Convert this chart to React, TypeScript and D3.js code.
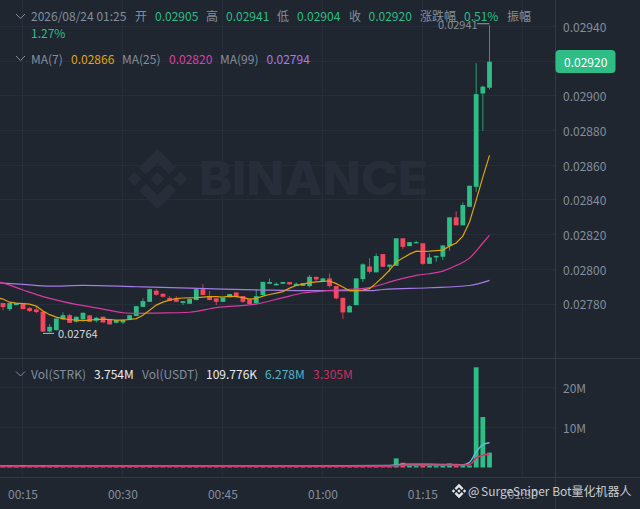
import React, { useRef, useEffect } from "react";
import * as d3 from "d3";

// one candle per minute, first one is 00:12
const opens = [
  2780.9, 2777.4, 2779.7, 2780.9, 2778.0, 2777.2, 2775.9, 2764.5, 2765.3, 2771.5,
  2773.9, 2770.1, 2771.5, 2773.8, 2770.7, 2773.0, 2771.5, 2769.5, 2769.7, 2771.1,
  2773.4, 2778.7, 2781.6, 2788.0, 2786.2, 2783.9, 2783.6, 2781.0, 2780.5, 2782.6,
  2788.9, 2784.9, 2783.6, 2781.6, 2784.2, 2787.0, 2784.9, 2783.0, 2780.7, 2785.5,
  2792.0, 2791.1, 2792.0, 2793.0, 2790.8, 2790.8, 2790.7, 2796.0, 2793.4, 2795.1,
  2790.7, 2783.9, 2775.5, 2779.7, 2794.7, 2802.0, 2798.6, 2809.1, 2801.8, 2802.4,
  2818.2, 2813.7, 2815.3, 2815.3, 2803.5, 2807.2, 2807.6, 2813.7, 2830.3, 2825.7,
  2836.4, 2847.9, 2901.7, 2905.0,
];
const closes = [
  2778.6, 2780.9, 2780.9, 2777.4, 2776.3, 2775.7, 2764.5, 2767.2, 2772.0, 2773.9,
  2769.5, 2773.0, 2775.3, 2770.1, 2772.4, 2769.7, 2768.6, 2771.1, 2771.1, 2773.9,
  2779.1, 2782.0, 2788.9, 2785.7, 2784.5, 2782.2, 2781.6, 2782.0, 2783.2, 2788.9,
  2785.5, 2782.6, 2781.6, 2783.9, 2786.1, 2784.5, 2781.6, 2780.3, 2784.9, 2793.1,
  2793.0, 2792.0, 2793.0, 2791.6, 2792.0, 2792.4, 2796.0, 2794.5, 2795.1, 2790.7,
  2783.6, 2775.5, 2779.1, 2795.1, 2803.2, 2798.9, 2808.0, 2801.8, 2803.0, 2818.2,
  2813.3, 2816.0, 2816.0, 2803.5, 2807.2, 2808.1, 2814.1, 2830.3, 2825.7, 2837.4,
  2848.5, 2901.3, 2905.6, 2920.0,
];
const highs = [
  2780.9, 2781.2, 2780.9, 2780.9, 2778.7, 2778.6, 2776.3, 2768.8, 2772.0, 2775.5,
  2774.6, 2773.0, 2775.3, 2773.8, 2773.0, 2773.0, 2771.5, 2771.1, 2771.6, 2773.9,
  2779.1, 2783.6, 2788.9, 2788.9, 2786.6, 2784.9, 2784.9, 2782.0, 2783.2, 2788.9,
  2791.8, 2787.8, 2783.6, 2783.9, 2786.1, 2787.0, 2784.9, 2783.0, 2788.8, 2793.1,
  2795.1, 2792.8, 2793.0, 2793.0, 2792.8, 2792.4, 2797.0, 2796.0, 2795.1, 2798.0,
  2790.7, 2783.9, 2779.7, 2795.1, 2803.8, 2806.8, 2809.5, 2809.1, 2803.0, 2818.2,
  2818.2, 2816.0, 2816.8, 2815.3, 2809.5, 2808.1, 2814.1, 2830.3, 2833.7, 2838.9,
  2848.5, 2919.1, 2906.2, 2941.0,
];
const lows = [
  2776.8, 2776.3, 2779.7, 2777.4, 2775.7, 2775.1, 2764.2, 2764.0, 2765.0, 2771.1,
  2769.5, 2769.7, 2771.1, 2769.8, 2769.7, 2769.7, 2768.6, 2769.5, 2768.8, 2771.1,
  2773.4, 2778.7, 2781.6, 2785.1, 2784.2, 2782.2, 2781.6, 2779.7, 2780.5, 2782.6,
  2785.5, 2782.6, 2779.7, 2781.6, 2784.2, 2784.5, 2781.0, 2780.3, 2780.7, 2785.5,
  2792.0, 2791.1, 2792.0, 2791.6, 2790.8, 2790.8, 2789.9, 2793.7, 2793.4, 2789.9,
  2783.0, 2771.8, 2775.5, 2779.7, 2793.0, 2798.0, 2798.6, 2801.8, 2798.9, 2802.4,
  2812.0, 2813.7, 2815.3, 2802.9, 2803.5, 2804.7, 2805.7, 2811.0, 2825.7, 2825.7,
  2836.4, 2845.0, 2880.2, 2904.0,
];

// first value of each MA belongs to the 00:11 candle, just off the left edge
const ma7 = [
  2784.0, 2783.2, 2781.4, 2780.9, 2780.6, 2780.3, 2779.1, 2776.3, 2774.2, 2772.8, 2771.9,
  2771.4, 2771.1, 2770.8, 2771.1, 2771.4, 2771.6, 2771.4, 2771.1, 2771.1, 2771.4,
  2771.9, 2773.9, 2776.8, 2779.7, 2781.4, 2782.6, 2783.5, 2783.8, 2783.9, 2784.0,
  2784.3, 2784.6, 2784.6, 2784.3, 2784.9, 2784.6, 2784.0, 2783.2, 2783.5, 2784.9,
  2785.8, 2786.6, 2787.5, 2789.5, 2791.0, 2791.8, 2792.7, 2793.1, 2793.4, 2793.6,
  2792.1, 2790.1, 2788.0, 2788.0, 2788.4, 2789.2, 2792.4, 2795.9, 2799.9, 2804.5,
  2806.8, 2809.1, 2810.8, 2810.6, 2810.8, 2811.1, 2811.4, 2813.7, 2815.5, 2819.5,
  2827.6, 2840.2, 2853.5, 2866.0,
];
const ma25Idx = [-1, 0, 3, 6, 9, 15, 18, 20, 23, 28, 32, 38, 42, 45, 48, 55, 59, 62, 66, 68, 70, 72, 73];
const ma25 = [
  2793.2, 2792.4, 2788.4, 2784.6, 2781.7, 2777.4, 2775.3, 2774.9, 2775.1, 2775.6, 2778.3, 2780.3,
  2784.0, 2786.7, 2787.8, 2789.8, 2794.1, 2796.8, 2799.3, 2802.5, 2806.8, 2815.5, 2820.0,
];
const ma99Idx = [-1, 0, 3, 7, 12, 20, 28, 33, 39, 47, 55, 57, 64, 70, 73];
const ma99 = [
  2792.6, 2792.4, 2791.7, 2790.6, 2791.1, 2790.3, 2789.5, 2788.9, 2788.4, 2788.0, 2788.0, 2788.7,
  2789.7, 2791.0, 2794.0,
];

// millions
const volumes = [
  0.35, 0.5, 0.3, 0.6, 0.3, 0.25, 0.6, 0.35, 0.5, 0.3,
  0.35, 0.25, 0.3, 0.3, 0.2, 0.25, 0.3, 0.2, 0.2, 0.25,
  0.3, 0.3, 0.5, 0.3, 0.25, 0.2, 0.2, 0.15, 0.2, 0.4,
  0.3, 0.25, 0.2, 0.2, 0.2, 0.2, 0.25, 0.25, 0.3, 0.45,
  0.25, 0.2, 0.2, 0.2, 0.2, 0.2, 0.35, 0.25, 0.2, 0.35,
  0.4, 0.6, 0.3, 0.6, 0.5, 0.3, 0.5, 0.4, 0.25, 2.3,
  1.2, 0.4, 0.35, 0.7, 0.4, 0.35, 0.6, 1.0, 0.45, 0.6,
  0.5, 25.3, 12.75, 3.754,
];
const volMaIdx = [-1, 15, 30, 45, 58, 60, 66, 69, 70, 71, 72, 73];
const volMa5 = [0.4, 0.35, 0.4, 0.4, 0.5, 0.85, 0.75, 0.7, 1.3, 3.9, 5.8, 6.278];
const volMa10 = [0.25, 0.3, 0.3, 0.3, 0.35, 0.6, 0.6, 0.62, 0.7, 2.4, 3.1, 3.305];

const priceTicks = [0.0294, 0.029, 0.0288, 0.0286, 0.0284, 0.0282, 0.028, 0.0278];
const priceGrid = [0.0294, 0.0292, 0.029, 0.0288, 0.0286, 0.0284, 0.0282, 0.028, 0.0278];
const volTicks = [20, 10];
const timeTicks = ["00:15", "00:30", "00:45", "01:00", "01:15", "01:30"];
const timeTickIdx = [3, 18, 33, 48, 63, 78];

const GREEN = "#2ebd85";
const RED = "#f6465d";
const GREY = "#848e9c";
const GRID = "#272e39";
const FONT = '"Noto Sans CJK SC", "Noto Sans", sans-serif';

const App: React.FC = () => {
  const chartRef = useRef<SVGSVGElement | null>(null);

  useEffect(() => {
    if (!chartRef.current) return;
    const svg = d3.select(chartRef.current);
    svg.selectAll("*").remove();

    const price = (v: number) => v / 100000;
    const x = d3.scaleLinear().domain([0, 73]).range([3, 489.5]);
    const y = d3.scaleLinear().domain([0.0294, 0.0278]).range([27, 304.6]);
    const yVol = d3.scaleLinear().domain([0, 20]).range([467.5, 388.3]);

    svg.append("rect").attr("width", 640).attr("height", 509).attr("fill", "#1f2630");

    // grid
    const grid = svg.append("g").attr("stroke", GRID).attr("stroke-width", 1);
    timeTickIdx.forEach((i) => {
      const px = Math.round(x(i)) - 0.5;
      grid.append("line").attr("x1", px).attr("x2", px).attr("y1", 0).attr("y2", 477);
    });
    priceGrid.forEach((t) => {
      const py = Math.round(y(t)) - 0.5;
      grid.append("line").attr("x1", 0).attr("x2", 555).attr("y1", py).attr("y2", py);
    });
    volTicks.forEach((t) => {
      const py = Math.round(yVol(t)) - 0.5;
      grid.append("line").attr("x1", 0).attr("x2", 555).attr("y1", py).attr("y2", py);
    });
    const frame = svg.append("g").attr("stroke", "#333a46").attr("stroke-width", 1);
    frame.append("line").attr("x1", 0).attr("x2", 640).attr("y1", 358.5).attr("y2", 358.5);
    frame.append("line").attr("x1", 0).attr("x2", 640).attr("y1", 477.5).attr("y2", 477.5);
    frame.append("line").attr("x1", 555.5).attr("x2", 555.5).attr("y1", 0).attr("y2", 509);

    // background logo
    const logo = (g: d3.Selection<SVGGElement, unknown, null, undefined>) => {
      g.append("path").attr(
        "d",
        "M0,-30 L18.5,-11.5 L11.5,-4.5 L0,-16 L-11.5,-4.5 L-18.5,-11.5 Z M0,30 L18.5,11.5 L11.5,4.5 L0,16 L-11.5,4.5 L-18.5,11.5 Z M0,-7 L7,0 L0,7 L-7,0 Z M-23,-7 L-16,0 L-23,7 L-30,0 Z M23,-7 L30,0 L23,7 L16,0 Z"
      );
    };
    svg.append("g").attr("transform", "translate(157.5,179)").attr("fill", "#282e39").call(logo);
    svg
      .append("text")
      .attr("x", 199)
      .attr("y", 195)
      .attr("textLength", 229)
      .attr("lengthAdjust", "spacingAndGlyphs")
      .attr("font-family", "Inter, sans-serif")
      .attr("font-weight", 800)
      .attr("font-size", 46)
      .attr("fill", "#282e39")
      .text("BINANCE");

    // candles
    const candles = svg.append("g");
    opens.forEach((o, i) => {
      const c = closes[i];
      const color = c >= o ? GREEN : RED;
      const px = x(i);
      candles
        .append("line")
        .attr("x1", px)
        .attr("x2", px)
        .attr("y1", y(price(highs[i])))
        .attr("y2", y(price(lows[i])))
        .attr("stroke", color)
        .attr("stroke-opacity", 0.8)
        .attr("stroke-width", 1);
      const top = y(price(Math.max(o, c)));
      const bottom = y(price(Math.min(o, c)));
      candles
        .append("rect")
        .attr("x", px - 2.4)
        .attr("width", 4.8)
        .attr("y", top)
        .attr("height", Math.max(bottom - top, 1))
        .attr("fill", color);
    });

    // moving averages
    const drawLine = (
      idx: number[],
      vals: number[],
      yScale: (v: number) => number,
      color: string,
      width: number,
      curve: d3.CurveFactory
    ) => {
      const line = d3
        .line<number>()
        .x((d) => x(idx[d]))
        .y((d) => yScale(vals[d]))
        .curve(curve);
      svg
        .append("path")
        .attr("d", line(d3.range(vals.length)))
        .attr("fill", "none")
        .attr("stroke", color)
        .attr("stroke-width", width);
    };
    const yPrice = (v: number) => y(price(v));
    drawLine(ma99Idx, ma99, yPrice, "#a57be8", 1.2, d3.curveMonotoneX);
    drawLine(ma25Idx, ma25, yPrice, "#d83aa0", 1.2, d3.curveMonotoneX);
    drawLine(d3.range(-1, ma7.length - 1), ma7, yPrice, "#dca30f", 1.2, d3.curveLinear);

    // volume
    const vols = svg.append("g");
    volumes.forEach((v, i) => {
      vols
        .append("rect")
        .attr("x", x(i) - 2.4)
        .attr("width", 4.8)
        .attr("y", yVol(v))
        .attr("height", yVol(0) - yVol(v))
        .attr("fill", closes[i] >= opens[i] ? GREEN : RED);
    });
    drawLine(volMaIdx, volMa5, yVol, "#5cc0d4", 1.5, d3.curveMonotoneX);
    drawLine(volMaIdx, volMa10, yVol, "#d9356a", 1.6, d3.curveMonotoneX);

    // text helper
    const label = (tx: number, ty: number, s: string, fill: string, size = 12) =>
      svg
        .append("text")
        .attr("x", tx)
        .attr("y", ty - 0.8)
        .attr("dominant-baseline", "central")
        .attr("font-family", FONT)
        .attr("font-size", size)
        .attr("fill", fill)
        .text(s);

    const chevron = (cx: number, cy: number) =>
      svg
        .append("path")
        .attr("d", `M${cx - 4.5},${cy - 2.5} L${cx},${cy + 2} L${cx + 4.5},${cy - 2.5}`)
        .attr("fill", "none")
        .attr("stroke", GREY)
        .attr("stroke-width", 1);

    // header rows
    chevron(20.5, 16.5);
    chevron(20.5, 58.5);
    chevron(20.5, 374);
    const header: [number, string, string][] = [
      [31, "2026/08/24 01:25", GREY],
      [135, "开", GREY],
      [155, "0.02905", GREEN],
      [206, "高", GREY],
      [226, "0.02941", GREEN],
      [277, "低", GREY],
      [297, "0.02904", GREEN],
      [349, "收", GREY],
      [368.5, "0.02920", GREEN],
      [420, "涨跌幅", GREY],
      [464, "0.51%", GREEN],
      [507, "振幅", GREY],
    ];
    header.forEach(([tx, s, c]) => label(tx, 16.5, s, c));
    label(31, 33, "1.27%", GREEN);

    const maRow: [number, string, string][] = [
      [31, "MA(7)", GREY],
      [71, "0.02866", "#e0a50f"],
      [122, "MA(25)", GREY],
      [169, "0.02820", "#de3fa6"],
      [220, "MA(99)", GREY],
      [266.5, "0.02794", "#a57be8"],
    ];
    maRow.forEach(([tx, s, c]) => label(tx, 59, s, c));

    const volRow: [number, string, string][] = [
      [31, "Vol(STRK)", GREY],
      [94, "3.754M", "#eaecef"],
      [142, "Vol(USDT)", GREY],
      [206, "109.776K", "#eaecef"],
      [265, "6.278M", "#4fb4c8"],
      [313, "3.305M", "#c9315f"],
    ];
    volRow.forEach(([tx, s, c]) => label(tx, 374.5, s, c));

    // axes labels
    priceTicks.forEach((t) => label(563, y(t), t.toFixed(5), GREY));
    volTicks.forEach((t) => label(563, yVol(t), `${t}M`, GREY));
    timeTicks.forEach((s, i) => {
      label(x(timeTickIdx[i]), 494.5, s, GREY).attr("text-anchor", "middle");
    });

    // last price tag
    svg
      .append("rect")
      .attr("x", 555.5)
      .attr("y", 50)
      .attr("width", 60)
      .attr("height", 23)
      .attr("rx", 4)
      .attr("fill", GREEN);
    label(564, 62, "0.02920", "#ffffff");

    // high / low markers
    const hiY = y(price(highs[73]));
    svg
      .append("line")
      .attr("x1", 477)
      .attr("x2", x(73))
      .attr("y1", hiY - 1.5)
      .attr("y2", hiY - 1.5)
      .attr("stroke", "#9aa1ac");
    label(438, 24.5, "0.02941", GREY, 11);
    const loY = y(price(lows[7]));
    svg
      .append("line")
      .attr("x1", 43)
      .attr("x2", 54)
      .attr("y1", loY + 1)
      .attr("y2", loY + 1)
      .attr("stroke", "#b7bdc6");
    label(58, 334, "0.02764", "#d5d8dc", 11);

    // bottom right mark
    svg
      .append("g")
      .attr("transform", "translate(459,491) scale(0.24)")
      .attr("fill", "#e6e8ea")
      .call(logo);
    label(468, 491, "@", "#d8dbdf", 12);
    label(481, 491.5, "SurgeSniper Bot量化机器人", "#c9ccd1", 12);
  }, []);

  return (
    <svg
      ref={chartRef}
      width={640}
      height={509}
      style={{ position: "absolute", left: 0, top: 0, display: "block" }}
    />
  );
};

export default App;
